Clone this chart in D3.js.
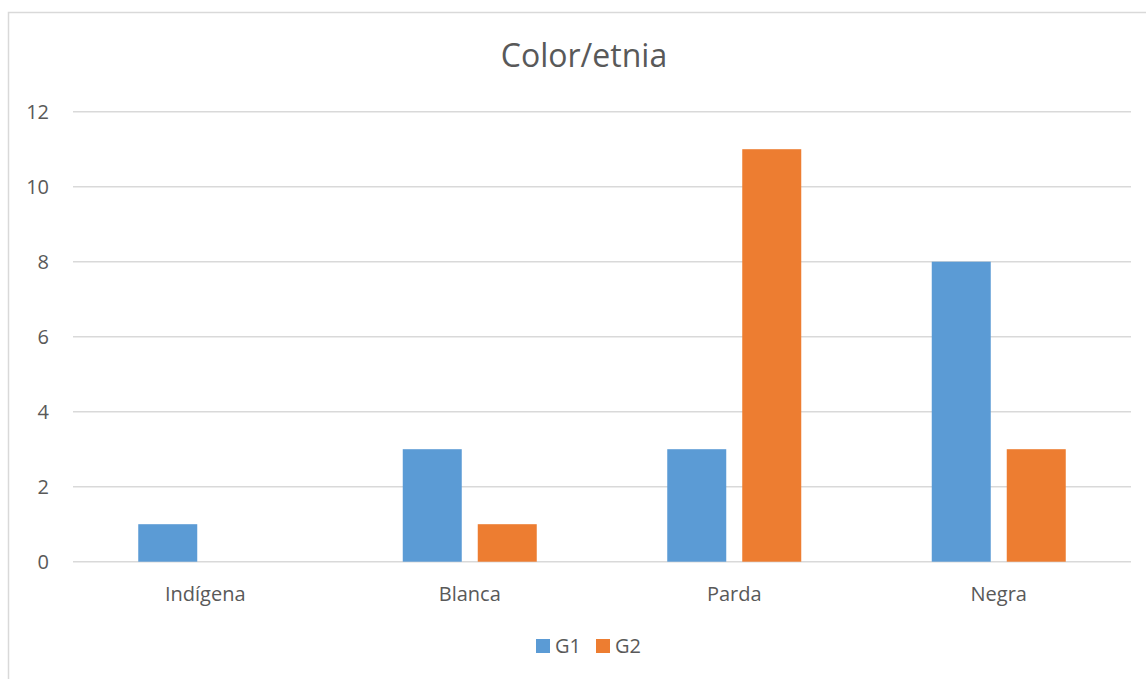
<!DOCTYPE html>
<html><head><meta charset="utf-8">
<script src="https://cdn.jsdelivr.net/npm/d3@7"></script>
<style>body{margin:0;background:#fff}svg{display:block}text{font-family:"Open Sans",sans-serif;fill:#595959}</style>
</head><body>
<svg id="c" width="1146" height="679"></svg>
<script>
const categories = ["Indígena","Blanca","Parda","Negra"];
const seriesNames = ["G1","G2"];
const g1Values = [1,3,3,8];
const g2Values = [0,1,11,3];
const yTicks = [0,2,4,6,8,10,12];
const title = "Color/etnia";
const colors = ["#5B9BD5","#ED7D31"];

(function(){
const svg = d3.select("#c");
// chart frame
svg.append("rect").attr("x",8.5).attr("y",12.5).attr("width",1160).attr("height",700)
  .attr("fill","none").attr("stroke","#d9d9d9").attr("stroke-width",1.5);

const pL=73, pR=1131, pT=111.7, pB=561.7;
const x = d3.scaleBand().domain(categories).range([pL,pR]);
const y = d3.scaleLinear().domain([0,12]).range([pB,pT]);
const bw = 59, gap = 16;
const xs = d3.scaleOrdinal().domain(seriesNames).range([-(bw+gap)/2 - bw/2, (bw+gap)/2 - bw/2]);

// gridlines
svg.append("g").selectAll("line").data(yTicks).join("line")
  .attr("x1",pL).attr("x2",pR).attr("y1",d=>y(d)).attr("y2",d=>y(d))
  .attr("stroke","#d9d9d9").attr("stroke-width",1.5);

// y labels
const yAxis = d3.axisLeft(y).tickValues(yTicks).tickSize(0).tickPadding(0);
const ya = svg.append("g").attr("transform",`translate(49,0)`).call(yAxis);
ya.select(".domain").remove();
ya.selectAll("text").attr("font-size",20).attr("font-family","Open Sans").attr("fill","#595959").attr("dy","0.36em");

// bars
const data = categories.map((c,i)=>({c, vals:[g1Values[i],g2Values[i]]}));
seriesNames.forEach((s,si)=>{
  svg.append("g").selectAll("rect").data(data.filter(d=>d.vals[si]>0)).join("rect")
    .attr("x",d=>x(d.c)+x.bandwidth()/2+xs(s))
    .attr("width",bw)
    .attr("y",d=>y(d.vals[si]))
    .attr("height",d=>y(0)-y(d.vals[si]))
    .attr("fill",colors[si]);
});

// x labels
const xAxis = d3.axisBottom(x).tickSize(0).tickPadding(0);
const xa = svg.append("g").attr("transform",`translate(0,${pB+39})`).call(xAxis);
xa.select(".domain").remove();
xa.selectAll("text").attr("font-size",20).attr("font-family","Open Sans").attr("fill","#595959").attr("dy",0);

// title
svg.append("text").attr("x",584).attr("y",67).attr("text-anchor","middle")
  .attr("font-size",32).text(title);

// legend
const lg = svg.append("g");
const legX = [536,596];
seriesNames.forEach((s,i)=>{
  lg.append("rect").attr("x",legX[i]).attr("y",639).attr("width",14).attr("height",14).attr("fill",colors[i]);
  lg.append("text").attr("x",legX[i]+19).attr("y",653).attr("font-size",20).text(s);
});
})();
</script>
</body></html>
